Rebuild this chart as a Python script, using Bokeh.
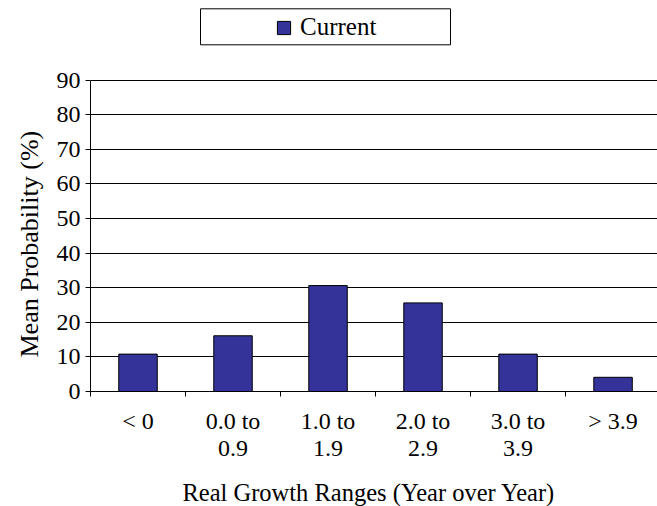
from bokeh.plotting import figure
from bokeh.models import (Range1d, FixedTicker, Legend, LegendItem, ColumnDataSource,
                          BoxAnnotation, Title)
from bokeh.embed import file_html
from bokeh.resources import INLINE

# ---- data ----
categories = ["< 0", "0.0 to\n0.9", "1.0 to\n1.9", "2.0 to\n2.9", "3.0 to\n3.9", "> 3.9"]
current = [10.8, 16.1, 30.6, 25.6, 10.8, 4.1]
y_ticks = [0, 10, 20, 30, 40, 50, 60, 70, 80, 90]
series_name = "Current"
x_title = "Real Growth Ranges (Year over Year)"
y_title = "Mean Probability (%)"

FONT = "Liberation Serif"
BAR = "#333399"

# layout constants (pixels)
FRAME_H = 391          # frame spans the whole top part so the legend can sit inside it
AXIS_TOP_PX = 79.5     # where the 90 gridline sits
y_max = y_ticks[-1]
y_end = y_max * FRAME_H / (FRAME_H - AXIS_TOP_PX)

centers = [i + 0.5 for i in range(len(categories))]
bounds = list(range(len(categories) + 1))
src = ColumnDataSource(data=dict(x=centers, top=current))

p = figure(frame_width=567, frame_height=FRAME_H,
           x_range=Range1d(0, 5.968), y_range=Range1d(0, y_end),
           output_backend="svg", toolbar_location=None,
           min_border_left=90, min_border_right=0, min_border_top=0, min_border_bottom=115,
           background_fill_color="white", border_fill_color="white")
p.outline_line_color = None

bars = p.vbar(x="x", top="top", width=0.405, bottom=0, source=src,
              fill_color=BAR, line_color="black", line_width=1)

# legend proxy (square marker, not drawn in the plot)
proxy = p.scatter(x=[float("nan")], y=[float("nan")], marker="square",
                  fill_color=BAR, line_color="black", line_width=1)

# x axis
xa = p.xaxis[0]
xa.ticker = FixedTicker(ticks=centers, minor_ticks=bounds)
xa.major_label_overrides = {c: lab for c, lab in zip(centers, categories)}
xa.major_tick_out = 0
xa.major_tick_in = 0
xa.minor_tick_out = 5
xa.minor_tick_in = 0
xa.minor_tick_line_color = "black"
xa.axis_line_color = "black"
xa.major_label_text_font = FONT
xa.major_label_text_font_size = "24px"
xa.major_label_text_line_height = 1.05
xa.major_label_text_color = "black"
xa.major_label_standoff = 11

# y axis
ya = p.yaxis[0]
ya.ticker = FixedTicker(ticks=y_ticks)
ya.bounds = (0, y_max)
ya.major_tick_out = 5
ya.major_tick_in = 0
ya.minor_tick_out = 0
ya.minor_tick_in = 0
ya.major_tick_line_color = "black"
ya.axis_line_color = "black"
ya.major_label_text_font = FONT
ya.major_label_text_font_size = "24px"
ya.major_label_text_color = "black"
ya.major_label_standoff = 5

# axis titles
p.add_layout(Title(text=x_title, align="left", offset=92, standoff=26,
                   text_font=FONT, text_font_size="24.5px", text_font_style="normal",
                   text_color="black"), "below")
p.add_layout(Title(text=y_title, align="left", offset=34, standoff=20,
                   text_font=FONT, text_font_size="26px", text_font_style="normal",
                   text_line_height=1.0, text_color="black"), "left")

p.xgrid.visible = False
p.ygrid.ticker = FixedTicker(ticks=y_ticks)
p.ygrid.grid_line_color = "black"
p.ygrid.grid_line_width = 1

# legend frame
p.add_layout(BoxAnnotation(left=110, right=360, bottom=FRAME_H - 44.3, top=FRAME_H - 8.3,
                           left_units="screen", right_units="screen",
                           top_units="screen", bottom_units="screen",
                           fill_color="white", fill_alpha=1,
                           line_color="black", line_alpha=1, line_width=1))

legend = Legend(items=[LegendItem(label=series_name, renderers=[proxy])],
                location=(177, FRAME_H - 43.8), orientation="vertical",
                padding=0, spacing=0, margin=0,
                glyph_width=33, glyph_height=33, label_standoff=0,
                label_height=33,
                label_text_font=FONT, label_text_font_size="25px", label_text_color="black",
                border_line_color=None, background_fill_alpha=0)
p.add_layout(legend, "center")

open("out.html", "w").write(file_html(p, INLINE))
